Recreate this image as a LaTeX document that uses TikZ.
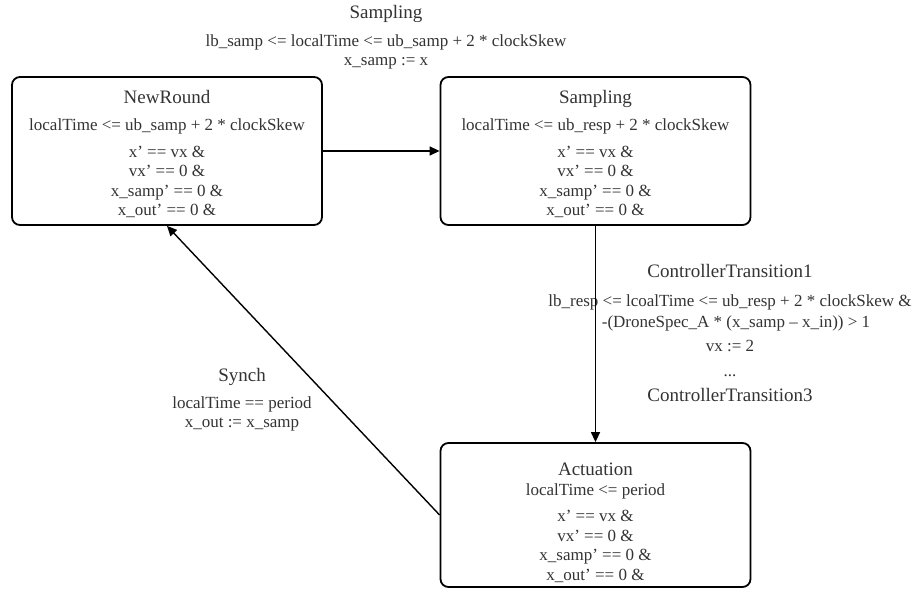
\documentclass[tikz,border=0pt]{standalone}
\usepackage{fontspec}
\setmainfont{Liberation Serif}
\usetikzlibrary{positioning}
\usetikzlibrary{arrows.meta}

\newcommand{\ttl}[1]{{\fontsize{19}{21}\selectfont #1}}

\begin{document}
\begin{tikzpicture}[x=1pt,y=-1pt,->,>={Triangle[length=10pt,width=9pt]},line width=1.4pt,
    loc/.style = {draw, rounded corners=8pt, line width=1.8pt, minimum width=310pt, minimum height=148pt, align=center, font=\fontsize{17}{19.5}\selectfont, text=black!80},
    guard/.style = {align=center, font=\fontsize{17}{19.5}\selectfont, text=black!80}]
        \useasboundingbox (0,0) rectangle (915,593);
        \node[loc] (newround) at (167,151) {\ttl{\rule{0pt}{19pt}NewRound}\\[8pt] localTime <= ub\_samp + 2 * clockSkew\\[7pt] x' == vx \&\\ vx' == 0 \&\\ x\_samp' == 0 \&\\ x\_out' == 0 \&};
        \node[loc] (sampling) at (595.5,151) {\ttl{\rule{0pt}{19pt}Sampling}\\[8pt] localTime <= ub\_resp + 2 * clockSkew\\[7pt] x' == vx \&\\ vx' == 0 \&\\ x\_samp' == 0 \&\\ x\_out' == 0 \&};
        \node[loc,minimum height=144pt] (actuation) at (595.5,515) {\ttl{\rule{0pt}{28pt}Actuation}\\[1pt] localTime <= period\\[6.5pt] x' == vx \&\\ vx' == 0 \&\\ x\_samp' == 0 \&\\ x\_out' == 0 \&};
        % transition labels
        \node[guard] (samplbl) at (386,37) {\ttl{Sampling}\\[9pt] lb\_samp <= localTime <= ub\_samp + 2 * clockSkew\\[-1pt] x\_samp := x};
        \node[guard] (ctrllbl) at (730,333) {\ttl{ControllerTransition1}\\[9pt] lb\_resp <= lcoalTime <= ub\_resp + 2 * clockSkew \&\\[1.5pt] \hspace*{12pt}-(DroneSpec\_A * (x\_samp -- x\_in)) > 1\\[4.5pt] vx := 2\\[5.5pt] ...\\[5.5pt] \ttl{ControllerTransition3}};
        \node[guard] (synchlbl) at (242,400) {\ttl{Synch}\\[7pt] localTime == period\\ x\_out := x\_samp};
        \path
        (newround) edge (sampling)
        (sampling) edge (actuation)
        (actuation.west) edge (newround.south);
\end{tikzpicture}
\end{document}
